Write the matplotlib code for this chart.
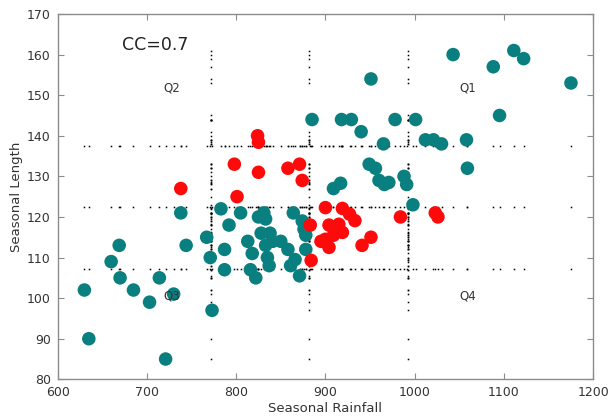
import numpy as np
import matplotlib
matplotlib.use('Agg')
from matplotlib import pyplot as plt

# seasonal rainfall / seasonal length, normal seasons
rain_teal = [630, 635, 660, 669, 670, 685, 703, 714, 730, 721, 738, 744, 767, 771, 773,
             783, 792, 787, 787, 805, 813, 818, 816, 822, 825, 831, 833, 828, 838, 833,
             841, 850, 858, 835, 837, 864, 874, 876, 878, 878, 866, 861, 871, 885, 909,
             917, 918, 929, 940, 951, 949, 956, 960, 966, 971, 965, 978, 988, 991, 998,
             1001, 1012, 1021, 1030, 1043, 1058, 1059, 1088, 1095, 1111, 1122, 1175]
length_teal = [102, 90, 109, 113, 105, 102, 99, 105, 101, 85, 121, 113, 115, 110, 97,
               122, 118, 112, 107, 121, 114, 111, 107, 105, 120, 121, 119.5, 116, 116, 113,
               114, 114, 112, 110, 108, 121, 119, 117, 115.5, 112, 109.5, 108, 105.5, 144, 127,
               128.3, 144, 144, 141, 154, 133, 132, 129, 128, 128.5, 138, 144, 130, 128, 123,
               144, 139, 139, 138, 160, 139, 132, 157, 145, 161, 159, 153]

# anomalous seasons
rain_red = [738, 801, 798, 824, 825, 825, 858, 871, 874, 883, 884, 900, 919, 927,
            933, 904, 915, 919, 909, 900, 895, 904, 941, 951, 984, 1023, 1026]
length_red = [127, 125, 133, 140, 138.4, 131, 132, 133, 129, 118, 109.3, 122.3, 122.1, 120.7,
              119.1, 118, 118.2, 116.2, 115.5, 114.5, 114, 112.5, 113, 115, 120, 121, 120]

# quadrant guides (mean and +/- one std)
rain_lines = [772, 882, 992]
length_lines = [107.3, 122.4, 137.5]

teal = '#0a7f7f'
red = '#ff0a0a'
spine_col = '#8c8c8c'

fig = plt.figure(figsize=(6.08, 4.19), dpi=100)
ax = fig.add_axes([0.0947, 0.0947, 0.8811, 0.8719])

all_rain = np.array(rain_teal + rain_red)
all_len = np.array(length_teal + length_red)

# dotted guides: one dot per season along each guide
for xv in rain_lines:
    ax.plot(np.full(all_len.size, xv), all_len, ls='none', marker='s', ms=1.1,
            mew=0, color='black', zorder=1)
for yv in length_lines:
    ax.plot(all_rain, np.full(all_rain.size, yv), ls='none', marker='s', ms=1.1,
            mew=0, color='black', zorder=1)

ax.scatter(rain_teal, length_teal, s=95, color=teal, edgecolors='none', zorder=3)
ax.scatter(rain_red, length_red, s=95, color=red, edgecolors='none', zorder=3)

ax.text(672, 162.3, 'CC=0.7', fontsize=12.5, color='#222222', va='center', ha='left')
for lab, xv, yv in [('Q2', 728, 151.7), ('Q1', 1059, 151.7), ('Q3', 728, 100.6), ('Q4', 1059, 100.5)]:
    ax.text(xv, yv, lab, fontsize=8.5, color='#333333', ha='center', va='center', zorder=4)

ax.set_xlim(600, 1200)
ax.set_ylim(80, 170)
ax.set_xticks(np.arange(600, 1201, 100))
ax.set_yticks(np.arange(80, 171, 10))
ax.tick_params(direction='in', top=True, right=True, length=4, width=0.8,
               color=spine_col, labelsize=9, labelcolor='#333333', pad=5)
for sp in ax.spines.values():
    sp.set_color(spine_col)
    sp.set_linewidth(1.0)

ax.set_xlabel('Seasonal Rainfall', fontsize=9.5, color='#333333', labelpad=2)
ax.set_ylabel('Seasonal Length', fontsize=9.5, color='#333333', labelpad=3)

fig.savefig('out.png', dpi=100)
